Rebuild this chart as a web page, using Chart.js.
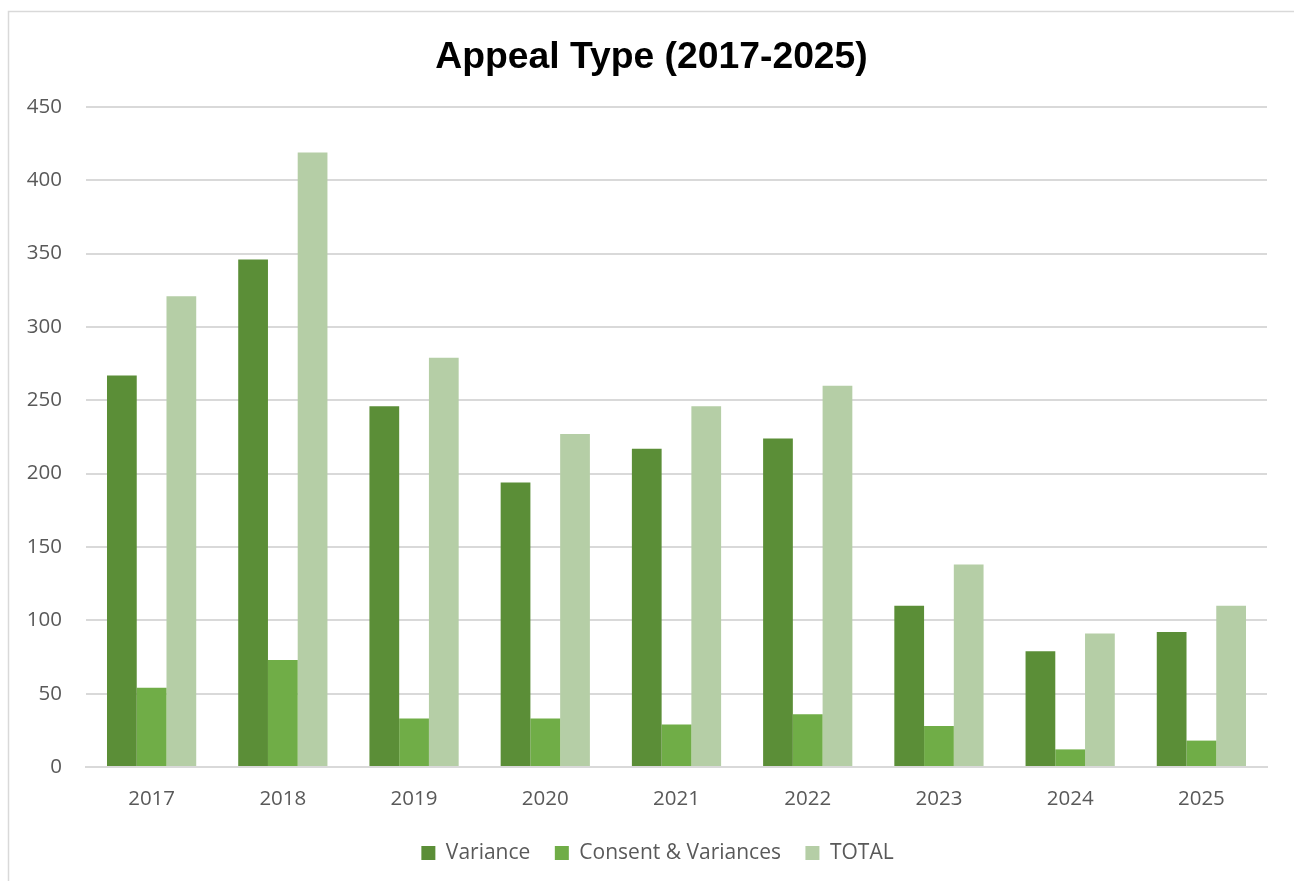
<!DOCTYPE html>
<html>
<head>
<meta charset="utf-8">
<script src="https://cdn.jsdelivr.net/npm/chart.js@4"></script>
<style>
  html, body { margin: 0; padding: 0; background: #fff; overflow: hidden; }
  #wrap { position: absolute; left: 0; top: 0; width: 1294px; height: 881px; }
</style>
</head>
<body>
<div id="wrap"><canvas id="c" width="1294" height="881"></canvas></div>
<script>
const categories = ['2017', '2018', '2019', '2020', '2021', '2022', '2023', '2024', '2025'];
const variance = [267, 346, 246, 194, 217, 224, 110, 79, 92];
const consentVariances = [54, 73, 33, 33, 29, 36, 28, 12, 18];
const total = [321, 419, 279, 227, 246, 260, 138, 91, 110];
const yTicks = [0, 50, 100, 150, 200, 250, 300, 350, 400, 450];

const frame = {
  id: 'frame',
  beforeDraw(chart) {
    const ctx = chart.ctx;
    ctx.save();
    ctx.fillStyle = '#ffffff';
    ctx.fillRect(0, 0, chart.width, chart.height);
    ctx.strokeStyle = '#d9d9d9';
    ctx.lineWidth = 1.5;
    ctx.strokeRect(8.5, 11.5, 1400, 1000);
    ctx.restore();
    // nudge legend and title to sit centred like the original
    if (chart.legend && !chart.legend._shifted) {
      chart.legend.left += 24;
      chart.legend.right += 24;
      chart.legend._shifted = true;
    }
    if (chart.titleBlock && !chart.titleBlock._shifted) {
      chart.titleBlock.left += 18;
      chart.titleBlock.right += 18;
      chart.titleBlock._shifted = true;
    }
  },
  afterUpdate(chart) {
    if (chart.legend) chart.legend._shifted = false;
    if (chart.titleBlock) chart.titleBlock._shifted = false;
  }
};

new Chart(document.getElementById('c'), {
  type: 'bar',
  data: {
    labels: categories,
    datasets: [
      { label: 'Variance', data: variance, backgroundColor: '#5B8E37' },
      { label: 'Consent & Variances', data: consentVariances, backgroundColor: '#70AD47' },
      { label: 'TOTAL', data: total, backgroundColor: '#B5CEA6' }
    ]
  },
  options: {
    responsive: false,
    animation: false,
    events: [],
    devicePixelRatio: 1,
    layout: { padding: { left: 0, right: 27, top: 0, bottom: 7.5 } },
    datasets: { bar: { barPercentage: 1.0, categoryPercentage: 0.68 } },
    scales: {
      x: {
        grid: { display: false, drawTicks: false },
        border: { display: true, color: '#d9d9d9', width: 2 },
        ticks: { color: '#595959', font: { family: 'Open Sans', size: 20.5 }, padding: 20 },
        afterFit(scale) { scale.height = 51; }
      },
      y: {
        min: 0, max: 450,
        afterBuildTicks(scale) { scale.ticks = yTicks.map(v => ({ value: v })); },
        grid: { color: '#d9d9d9', lineWidth: 2, drawTicks: false },
        border: { display: false },
        ticks: { color: '#595959', font: { family: 'Open Sans', size: 20.5 }, padding: 24 },
        afterFit(scale) { scale.width = 86; }
      }
    },
    plugins: {
      title: {
        display: true,
        text: 'Appeal Type (2017-2025)',
        color: '#000000',
        font: { family: 'Liberation Sans', size: 37.3, weight: 'bold' },
        padding: { top: 35.3, bottom: 26.9 }
      },
      legend: {
        position: 'bottom',
        labels: {
          color: '#595959',
          font: { family: 'Open Sans', size: 21 },
          boxWidth: 14, boxHeight: 14,
          padding: 24.5
        }
      },
      tooltip: { enabled: false }
    }
  },
  plugins: [frame]
});
</script>
</body>
</html>
